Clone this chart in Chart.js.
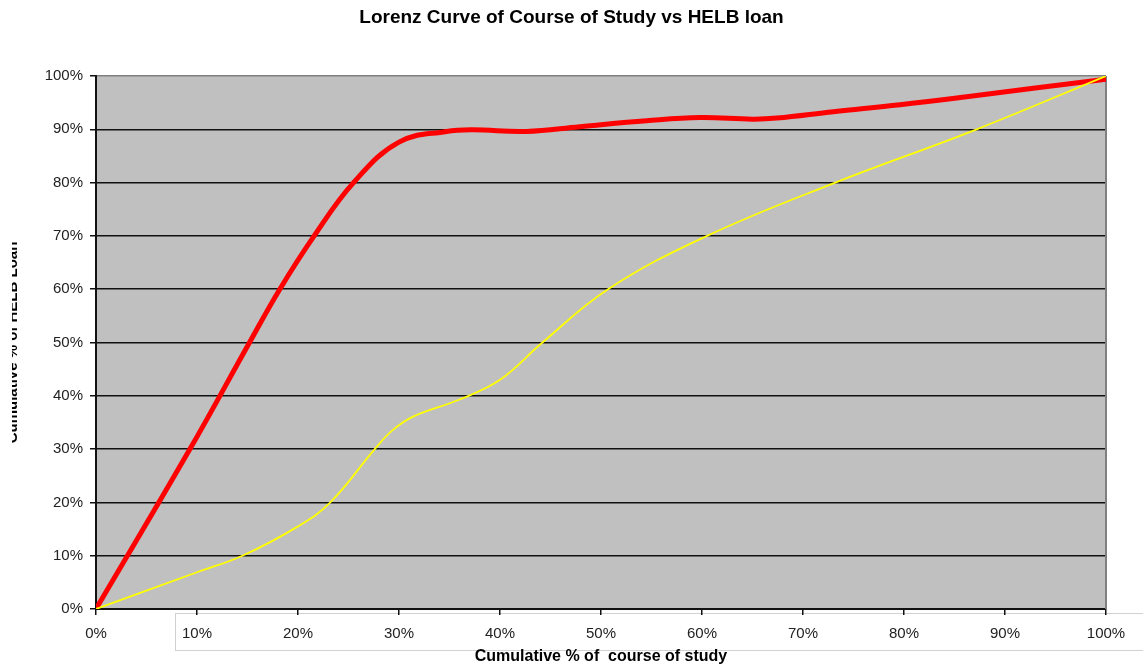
<!DOCTYPE html>
<html>
<head>
<meta charset="utf-8">
<title>Lorenz Curve of Course of Study vs HELB loan</title>
<script src="https://cdn.jsdelivr.net/npm/chart.js@4.4.0/dist/chart.umd.min.js"></script>
<style>
  html, body { margin: 0; padding: 0; background: #fff; }
  #wrap { width: 1143px; height: 666px; position: relative; }
</style>
</head>
<body>
<div id="wrap"><canvas id="lorenzChart"></canvas></div>
<script>
// cumulative % of course of study (x) against cumulative % of HELB loan (y)
const loanCurveX = [0, 9.3, 15.2, 18.2, 21.6, 25.5, 30, 34.7, 37.3, 42.6, 47.9, 54.5, 59.8, 65, 67.4, 73, 79.6, 86.2, 92.8, 100];
const loanCurveY = [0, 30, 50, 60, 70, 80, 87.6, 89.6, 89.9, 89.6, 90.5, 91.6, 92.2, 91.9, 92.1, 93.3, 94.6, 96.1, 97.7, 99.4];

const studyCurveX = [0, 10, 14.5, 20, 23.2, 27.6, 29.4, 31.4, 36, 40, 44.2, 50.7, 60.5, 73.2, 87.2, 100];
const studyCurveY = [0, 6.9, 10, 15.5, 20, 30, 33.6, 36.1, 39.3, 43, 50, 60, 70, 80, 90, 100];

const pctTicks = [0, 10, 20, 30, 40, 50, 60, 70, 80, 90, 100];

const FONT = "'Liberation Sans', Arial, sans-serif";

const toPoints = (xs, ys) => xs.map((x, i) => ({ x: x, y: ys[i] }));

// grey plot background, the boxed x labels and the right frame edge
const plotFrame = {
  id: "plotFrame",
  beforeDraw(chart) {
    const { ctx, chartArea: a } = chart;
    ctx.save();
    ctx.fillStyle = "#c0c0c0";
    ctx.fillRect(a.left, a.top, a.right - a.left, a.bottom - a.top);
    ctx.fillStyle = "#ffffff";
    ctx.strokeStyle = "#d2d2d2";
    ctx.lineWidth = 1;
    ctx.fillRect(175.5, 613.5, 1000, 37);
    ctx.strokeRect(175.5, 613.5, 1000, 37);
    ctx.restore();
  },
  beforeDatasetsDraw(chart) {
    const { ctx, chartArea: a } = chart;
    ctx.save();
    ctx.strokeStyle = "#808080";
    ctx.lineWidth = 2;
    ctx.beginPath();
    ctx.moveTo(a.right, a.top);
    ctx.lineTo(a.right, a.bottom);
    ctx.stroke();
    ctx.restore();
  },
  afterDraw(chart) {
    // left margin strip trims the axis title
    const { ctx } = chart;
    ctx.save();
    ctx.fillStyle = "#ffffff";
    ctx.fillRect(0, 0, 12, chart.height);
    ctx.restore();
  }
};

new Chart(document.getElementById("lorenzChart"), {
  type: "line",
  data: {
    datasets: [
      {
        label: "Cumulative % of HELB loan",
        data: toPoints(loanCurveX, loanCurveY),
        borderColor: "#ff0000",
        borderWidth: 5,
        pointRadius: 0,
        tension: 0.4,
        borderCapStyle: "round",
        borderJoinStyle: "round",
        order: 1
      },
      {
        label: "Cumulative % of course of study",
        data: toPoints(studyCurveX, studyCurveY),
        borderColor: "#ffff00",
        borderWidth: 1.8,
        pointRadius: 0,
        tension: 0.4,
        order: 0
      }
    ]
  },
  options: {
    responsive: true,
    maintainAspectRatio: false,
    devicePixelRatio: 1,
    animation: false,
    layout: { padding: 0 },
    plugins: {
      legend: { display: false },
      tooltip: { enabled: false },
      title: {
        display: true,
        text: "Lorenz Curve of Course of Study vs HELB loan",
        color: "#000",
        font: { family: FONT, size: 19, weight: "bold" },
        padding: { top: 6.6, bottom: 46.6 }
      }
    },
    scales: {
      x: {
        type: "linear",
        min: 0,
        max: 100,
        afterBuildTicks: s => { s.ticks = pctTicks.map(v => ({ value: v })); },
        afterFit: s => { s.height = 57; },
        ticks: {
          callback: v => v + "%",
          color: "#222",
          font: { family: FONT, size: 15 },
          padding: 10,
          maxRotation: 0,
          autoSkip: false
        },
        grid: {
          drawOnChartArea: false,
          drawTicks: true,
          tickLength: 6,
          color: "#111",
          lineWidth: 1.5
        },
        border: { color: "#111", width: 2 },
        title: {
          display: true,
          text: "Cumulative % of  course of study",
          color: "#000",
          font: { family: FONT, size: 16, weight: "bold" },
          padding: { top: 0, bottom: 0 }
        }
      },
      y: {
        min: 0,
        max: 100,
        afterBuildTicks: s => { s.ticks = pctTicks.map(v => ({ value: v })); },
        afterFit: s => { s.width = 96; },
        ticks: {
          callback: v => v + "%",
          color: "#222",
          font: { family: FONT, size: 15 },
          padding: 7
        },
        grid: {
          color: c => (c.tick && c.tick.value === 100 ? "#808080" : "#111"),
          tickColor: "#111",
          lineWidth: 1.5,
          tickLength: 6
        },
        border: { color: "#111", width: 2 },
        title: {
          display: true,
          text: "Cumulative % of HELB Loan",
          color: "#000",
          font: { family: FONT, size: 15, weight: "bold" },
          padding: { top: 4.3, bottom: 0 }
        }
      },
      // empty right-hand axis keeps the margin beside the plot
      yRight: {
        position: "right",
        min: 0,
        max: 100,
        afterFit: s => { s.width = 37; },
        ticks: { display: false },
        grid: { display: false },
        border: { display: false }
      }
    }
  },
  plugins: [plotFrame]
});
</script>
</body>
</html>
